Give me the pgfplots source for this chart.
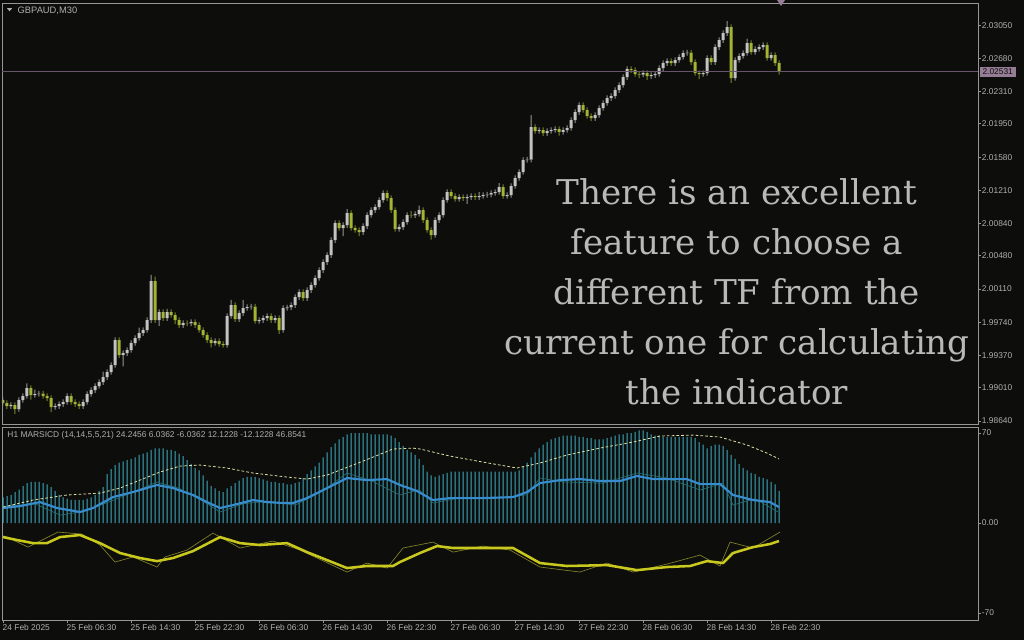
\documentclass[border=0pt]{standalone}
\usepackage{pgfplots}
\pgfplotsset{compat=1.18}
\usepackage{pgfplotstable}
\usepackage{fontspec}
\setmainfont{Liberation Sans}
\newfontfamily\slab{DejaVu Serif}
\definecolor{bg}{RGB}{13,13,11}
\definecolor{frame}{RGB}{150,150,150}
\definecolor{lbl}{RGB}{175,175,175}
\definecolor{bull}{RGB}{195,195,195}
\definecolor{bear}{RGB}{165,180,50}
\definecolor{bullwick}{RGB}{150,150,150}
\definecolor{bearwick}{RGB}{125,135,45}
\definecolor{bidline}{RGB}{105,85,105}
\definecolor{bidbox}{RGB}{150,125,150}
\definecolor{hist}{RGB}{60,170,190}
\definecolor{blueline}{RGB}{55,140,205}
\definecolor{dashline}{RGB}{225,225,170}
\definecolor{yel}{RGB}{200,200,30}
\definecolor{yelthin}{RGB}{130,130,40}
\definecolor{tealthin}{RGB}{40,110,115}
\definecolor{bigtext}{RGB}{185,185,185}

\pgfplotstableread{
i o h l c
0 1.98874 1.98904 1.98811 1.98841
1 1.98841 1.98871 1.98777 1.98807
2 1.98807 1.98848 1.98777 1.98818
3 1.98818 1.98848 1.98720 1.98774
4 1.98774 1.98904 1.98744 1.98874
5 1.98874 1.98949 1.98844 1.98919
6 1.98919 1.99060 1.98889 1.99008
7 1.99008 1.99038 1.98880 1.98930
8 1.98930 1.98990 1.98900 1.98941
9 1.98941 1.98975 1.98911 1.98945
10 1.98945 1.98975 1.98889 1.98919
11 1.98919 1.98949 1.98866 1.98896
12 1.98896 1.98926 1.98740 1.98796
13 1.98796 1.98837 1.98766 1.98807
14 1.98807 1.98859 1.98777 1.98829
15 1.98829 1.98882 1.98799 1.98852
16 1.98852 1.98949 1.98822 1.98919
17 1.98919 1.98949 1.98822 1.98852
18 1.98852 1.98882 1.98799 1.98829
19 1.98829 1.98859 1.98777 1.98807
20 1.98807 1.98882 1.98777 1.98852
21 1.98852 1.98971 1.98822 1.98941
22 1.98941 1.99015 1.98911 1.98985
23 1.98985 1.99060 1.98955 1.99030
24 1.99030 1.99104 1.99000 1.99074
25 1.99074 1.99190 1.99044 1.99130
26 1.99130 1.99216 1.99100 1.99186
27 1.99186 1.99294 1.99156 1.99264
28 1.99264 1.99572 1.99234 1.99542
29 1.99542 1.99572 1.99345 1.99375
30 1.99375 1.99427 1.99250 1.99397
31 1.99397 1.99461 1.99367 1.99431
32 1.99431 1.99539 1.99401 1.99509
33 1.99509 1.99595 1.99479 1.99565
34 1.99565 1.99680 1.99535 1.99620
35 1.99620 1.99684 1.99590 1.99654
36 1.99654 1.99795 1.99624 1.99765
37 1.99765 2.00267 1.99735 2.00200
38 2.00200 2.00250 1.99735 1.99765
39 1.99765 1.99884 1.99700 1.99854
40 1.99854 1.99884 1.99757 1.99787
41 1.99787 1.99890 1.99757 1.99854
42 1.99854 1.99884 1.99791 1.99821
43 1.99821 1.99851 1.99720 1.99765
44 1.99765 1.99795 1.99679 1.99709
45 1.99709 1.99762 1.99679 1.99732
46 1.99732 1.99762 1.99698 1.99728
47 1.99728 1.99773 1.99698 1.99743
48 1.99743 1.99773 1.99679 1.99709
49 1.99709 1.99739 1.99624 1.99654
50 1.99654 1.99684 1.99568 1.99598
51 1.99598 1.99628 1.99512 1.99542
52 1.99542 1.99572 1.99460 1.99509
53 1.99509 1.99561 1.99479 1.99531
54 1.99531 1.99561 1.99468 1.99498
55 1.99498 1.99528 1.99457 1.99487
56 1.99487 1.99840 1.99457 1.99810
57 1.99810 1.99990 1.99780 1.99932
58 1.99932 1.99962 1.99746 1.99776
59 1.99776 1.99873 1.99746 1.99843
60 1.99843 1.99990 1.99813 1.99899
61 1.99899 1.99940 1.99869 1.99910
62 1.99910 1.99945 1.99880 1.99915
63 1.99915 1.99945 1.99724 1.99754
64 1.99754 1.99795 1.99724 1.99765
65 1.99765 1.99817 1.99735 1.99787
66 1.99787 1.99840 1.99757 1.99810
67 1.99810 1.99840 1.99735 1.99765
68 1.99765 1.99817 1.99735 1.99787
69 1.99787 1.99817 1.99610 1.99654
70 1.99654 1.99929 1.99624 1.99899
71 1.99899 1.99935 1.99869 1.99905
72 1.99905 1.99962 1.99875 1.99932
73 1.99932 2.00051 1.99902 2.00021
74 2.00021 2.00107 1.99991 2.00077
75 2.00077 2.00107 1.99980 2.00010
76 2.00010 2.00129 1.99980 2.00099
77 2.00099 2.00185 2.00069 2.00155
78 2.00155 2.00263 2.00125 2.00233
79 2.00233 2.00352 2.00203 2.00322
80 2.00322 2.00441 2.00292 2.00411
81 2.00411 2.00519 2.00381 2.00489
82 2.00489 2.00686 2.00459 2.00656
83 2.00656 2.00876 2.00626 2.00846
84 2.00846 2.00876 2.00760 2.00790
85 2.00790 2.00853 2.00700 2.00823
86 2.00823 2.01000 2.00793 2.00957
87 2.00957 2.00987 2.00760 2.00790
88 2.00790 2.00820 2.00738 2.00768
89 2.00768 2.00798 2.00700 2.00745
90 2.00745 2.00842 2.00715 2.00812
91 2.00812 2.00965 2.00782 2.00935
92 2.00935 2.01020 2.00905 2.00990
93 2.00990 2.01054 2.00960 2.01024
94 2.01024 2.01132 2.00994 2.01102
95 2.01102 2.01210 2.01072 2.01180
96 2.01180 2.01210 2.01094 2.01124
97 2.01124 2.01154 2.00960 2.00990
98 2.00990 2.01020 2.00749 2.00779
99 2.00779 2.00831 2.00749 2.00801
100 2.00801 2.00887 2.00771 2.00857
101 2.00857 2.00965 2.00827 2.00935
102 2.00935 2.00980 2.00900 2.00930
103 2.00930 2.00976 2.00900 2.00946
104 2.00946 2.01040 2.00916 2.00990
105 2.00990 2.01020 2.00849 2.00879
106 2.00879 2.00909 2.00738 2.00768
107 2.00768 2.00798 2.00660 2.00712
108 2.00712 2.00909 2.00682 2.00879
109 2.00879 2.00965 2.00849 2.00935
110 2.00935 2.01132 2.00905 2.01102
111 2.01102 2.01221 2.01072 2.01191
112 2.01191 2.01221 2.01117 2.01147
113 2.01147 2.01177 2.01083 2.01113
114 2.01113 2.01165 2.01083 2.01135
115 2.01135 2.01165 2.01094 2.01124
116 2.01124 2.01165 2.01060 2.01135
117 2.01135 2.01177 2.01105 2.01147
118 2.01147 2.01177 2.01105 2.01135
119 2.01135 2.01190 2.01105 2.01147
120 2.01147 2.01188 2.01117 2.01158
121 2.01158 2.01192 2.01128 2.01162
122 2.01162 2.01210 2.01132 2.01180
123 2.01180 2.01221 2.01150 2.01191
124 2.01191 2.01290 2.01161 2.01247
125 2.01247 2.01277 2.01117 2.01147
126 2.01147 2.01188 2.01117 2.01158
127 2.01158 2.01288 2.01128 2.01258
128 2.01258 2.01377 2.01228 2.01347
129 2.01347 2.01444 2.01317 2.01414
130 2.01414 2.01578 2.01384 2.01548
131 2.01548 2.01582 2.01518 2.01552
132 2.01552 2.02049 2.01522 2.01915
133 2.01915 2.01945 2.01841 2.01871
134 2.01871 2.01912 2.01841 2.01882
135 2.01882 2.01912 2.01818 2.01848
136 2.01848 2.01901 2.01818 2.01871
137 2.01871 2.01912 2.01841 2.01882
138 2.01882 2.01923 2.01852 2.01893
139 2.01893 2.01923 2.01820 2.01860
140 2.01860 2.01912 2.01830 2.01882
141 2.01882 2.01934 2.01852 2.01904
142 2.01904 2.02023 2.01874 2.01993
143 2.01993 2.02112 2.01963 2.02082
144 2.02082 2.02190 2.02052 2.02160
145 2.02160 2.02190 2.02075 2.02105
146 2.02105 2.02135 2.02008 2.02038
147 2.02038 2.02068 2.01985 2.02015
148 2.02015 2.02079 2.01985 2.02049
149 2.02049 2.02157 2.02019 2.02127
150 2.02127 2.02213 2.02097 2.02183
151 2.02183 2.02268 2.02153 2.02238
152 2.02238 2.02291 2.02208 2.02261
153 2.02261 2.02357 2.02231 2.02327
154 2.02327 2.02413 2.02297 2.02383
155 2.02383 2.02502 2.02353 2.02472
156 2.02472 2.02591 2.02442 2.02561
157 2.02561 2.02591 2.02520 2.02550
158 2.02550 2.02580 2.02476 2.02506
159 2.02506 2.02536 2.02460 2.02500
160 2.02500 2.02547 2.02470 2.02517
161 2.02517 2.02547 2.02440 2.02483
162 2.02483 2.02524 2.02453 2.02494
163 2.02494 2.02536 2.02464 2.02506
164 2.02506 2.02602 2.02476 2.02572
165 2.02572 2.02658 2.02542 2.02628
166 2.02628 2.02680 2.02598 2.02650
167 2.02650 2.02680 2.02598 2.02628
168 2.02628 2.02692 2.02598 2.02662
169 2.02662 2.02725 2.02632 2.02695
170 2.02695 2.02770 2.02665 2.02740
171 2.02740 2.02775 2.02710 2.02745
172 2.02745 2.02775 2.02609 2.02639
173 2.02639 2.02669 2.02487 2.02517
174 2.02517 2.02547 2.02450 2.02506
175 2.02506 2.02547 2.02476 2.02517
176 2.02517 2.02714 2.02487 2.02684
177 2.02684 2.02714 2.02609 2.02639
178 2.02639 2.02836 2.02609 2.02806
179 2.02806 2.02914 2.02776 2.02884
180 2.02884 2.02992 2.02854 2.02962
181 2.02962 2.03096 2.02932 2.03029
182 2.03029 2.03059 2.02406 2.02461
183 2.02461 2.02692 2.02431 2.02662
184 2.02662 2.02736 2.02632 2.02706
185 2.02706 2.02770 2.02676 2.02740
186 2.02740 2.02900 2.02710 2.02851
187 2.02851 2.02881 2.02721 2.02751
188 2.02751 2.02814 2.02721 2.02784
189 2.02784 2.02836 2.02754 2.02806
190 2.02806 2.02859 2.02776 2.02829
191 2.02829 2.02859 2.02654 2.02684
192 2.02684 2.02747 2.02654 2.02717
193 2.02717 2.02747 2.02598 2.02628
194 2.02628 2.02658 2.02500 2.02531
}\candles

\pgfplotsset{
  mtaxis/.style={
    scale only axis, width=732pt, xmin=-0.25, xmax=243.75,
    axis line style={draw=frame, line width=0.75pt},
    tick style={draw=frame, line width=0.75pt},
    tick align=outside, major tick length=2.25pt,
    ytick pos=right, yticklabel pos=right,
    yticklabel style={font=\fontsize{6.3pt}{7pt}\selectfont, text=lbl, anchor=west, inner sep=0pt, xshift=0.5pt},
    clip=false,
  },
  seg/.style 2 args={draw=none, fill=#1, bar width=#2},
}

\begin{document}
\begin{tikzpicture}
\fill[bg] (0,0) rectangle (768pt,-480pt);

% ---------------- candles (stacked segments: low, lower wick, body, upper wick), prices minus 1.98 ----------------
\begin{axis}[mtaxis, hide axis, clip=true,
  at={(1.5pt,-2.25pt)}, anchor=north west, height=315.75pt,
  ymin=0.00607, ymax=0.05297, ybar stacked]
\addplot[draw=none, fill=none, bar width=0.75pt] table[x=i, y expr={\thisrow{l}-1.98}] {\candles};
\addplot[seg={bullwick}{0.75pt}] table[x=i, y expr={(1-(\thisrow{o}>\thisrow{c}))*(\thisrow{o}-\thisrow{l})}] {\candles};
\addplot[seg={bearwick}{0.75pt}] table[x=i, y expr={(\thisrow{o}>\thisrow{c})*(\thisrow{c}-\thisrow{l})}] {\candles};
\addplot[seg={bull}{2.25pt}] table[x=i, y expr={(1-(\thisrow{o}>\thisrow{c}))*(\thisrow{c}-\thisrow{o})}] {\candles};
\addplot[seg={bear}{2.25pt}] table[x=i, y expr={(\thisrow{o}>\thisrow{c})*(\thisrow{o}-\thisrow{c})}] {\candles};
\addplot[seg={bullwick}{0.75pt}] table[x=i, y expr={(1-(\thisrow{o}>\thisrow{c}))*(\thisrow{h}-\thisrow{c})}] {\candles};
\addplot[seg={bearwick}{0.75pt}] table[x=i, y expr={(\thisrow{o}>\thisrow{c})*(\thisrow{h}-\thisrow{o})}] {\candles};
\end{axis}

% ---------------- price panel frame, ticks, bid line ----------------
\begin{axis}[mtaxis,
  at={(1.5pt,-2.25pt)}, anchor=north west, height=315.75pt,
  ymin=1.98607, ymax=2.03297,
  xtick=\empty,
  ytick={1.98640,1.99010,1.99370,1.99740,2.00110,2.00480,2.00840,2.01210,2.01580,2.01950,2.02310,2.02680,2.03050},
  yticklabels={1.98640,1.99010,1.99370,1.99740,2.00110,2.00480,2.00840,2.01210,2.01580,2.01950,2.02310,2.02680,2.03050},
]
\addplot[bidline, line width=0.75pt] coordinates {(-0.25,2.02531) (243.75,2.02531)};
\node[fill=bidbox, text=bg, font=\fontsize{6.3pt}{7pt}\selectfont, inner xsep=2.2pt, inner ysep=1.4pt, anchor=west]
  at (axis cs:243.75,2.02531) [xshift=1pt] {2.02531};
\fill[lbl] ([shift={(3.75pt,-3.9pt)}]rel axis cs:0,1) -- ([shift={(7.6pt,-3.9pt)}]rel axis cs:0,1) -- ([shift={(5.675pt,-6.2pt)}]rel axis cs:0,1) -- cycle;
\node[anchor=west, font=\fontsize{7pt}{8pt}\selectfont, text=lbl, inner sep=0pt] at (rel axis cs:0,1) [xshift=11.6pt, yshift=-5.7pt] {GBPAUD,M30};
\fill[bidbox] ([shift={(-3pt,2.25pt)}]axis cs:194.5,2.03297) -- ([shift={(3pt,2.25pt)}]axis cs:194.5,2.03297) -- ([shift={(0pt,-2.25pt)}]axis cs:194.5,2.03297) -- cycle;
\node[align=center, text=bigtext, font=\slab\fontsize{25.6pt}{37.5pt}\selectfont, inner sep=0pt]
  at (axis cs:183.5,2.00085) {There is an excellent\\feature to choose a\\different TF from the\\current one for calculating\\the indicator};
\end{axis}

% ---------------- indicator panel ----------------
\begin{axis}[mtaxis,
  at={(1.5pt,-320.25pt)}, anchor=north west, height=144.75pt,
  ymin=-75.4, ymax=74.7,
  ytick={-70,0,70}, yticklabels={-70,0.00,70},
  xtick={0,16,32,48,64,80,96,112,128,144,160,176,192},
  xticklabels={24 Feb 2025,25 Feb 06:30,25 Feb 14:30,25 Feb 22:30,26 Feb 06:30,26 Feb 14:30,26 Feb 22:30,27 Feb 06:30,27 Feb 14:30,27 Feb 22:30,28 Feb 06:30,28 Feb 14:30,28 Feb 22:30},
  xtick pos=bottom, xticklabel pos=bottom,
  xticklabel style={font=\fontsize{6.3pt}{7pt}\selectfont, text=lbl, anchor=north west, inner sep=0pt, yshift=-1.2pt, xshift=-0.4pt},
]
\addplot[ybar, bar width=0.75pt, fill=hist, draw=none] coordinates {
(0,20) (1,21) (2,22) (3,24) (4,26) (5,29) (6,31) (7,32) (8,32) (9,32)
(10,31) (11,30) (12,28) (13,25) (14,22) (15,20) (16,19) (17,18) (18,18) (19,18)
(20,18) (21,19) (22,20) (23,22) (24,25) (25,28) (26,38) (27,42) (28,45) (29,47)
(30,48) (31,49) (32,50) (33,51) (34,53) (35,54) (36,55) (37,57) (38,58) (39,58)
(40,58) (41,57) (42,57) (43,56) (44,54) (45,52) (46,49) (47,46) (48,43) (49,41)
(50,37) (51,33) (52,29) (53,27) (54,25) (55,24) (56,27) (57,29) (58,31) (59,33)
(60,35) (61,36) (62,36) (63,36) (64,35) (65,34) (66,33) (67,32) (68,32) (69,31)
(70,31) (71,30) (72,30) (73,31) (74,32) (75,35) (76,38) (77,41) (78,44) (79,47)
(80,51) (81,55) (82,59) (83,62) (84,65) (85,67) (86,69) (87,70) (88,70) (89,70)
(90,70) (91,70) (92,69) (93,69) (94,69) (95,69) (96,69) (97,68) (98,66) (99,63)
(100,60) (101,57) (102,55) (103,53) (104,50) (105,45) (106,40) (107,37) (108,36) (109,37)
(110,38) (111,39) (112,40) (113,40) (114,40) (115,40) (116,40) (117,40) (118,40) (119,40)
(120,40) (121,40) (122,40) (123,40) (124,40) (125,40) (126,40) (127,40) (128,40) (129,41)
(130,44) (131,47) (132,51) (133,55) (134,58) (135,61) (136,63) (137,65) (138,66) (139,67)
(140,68) (141,68) (142,68) (143,68) (144,67) (145,67) (146,66) (147,66) (148,65) (149,65)
(150,65) (151,66) (152,67) (153,68) (154,69) (155,69) (156,70) (157,70) (158,71) (159,72)
(160,72) (161,71) (162,69) (163,68) (164,68) (165,67) (166,67) (167,67) (168,67) (169,67)
(170,67) (171,67) (172,67) (173,66) (174,63) (175,61) (176,58) (177,60) (178,61) (179,61)
(180,60) (181,57) (182,53) (183,50) (184,46) (185,43) (186,41) (187,39) (188,38) (189,36)
(190,35) (191,34) (192,32) (193,30) (194,25)
};
\addplot[tealthin, line width=0.5pt] coordinates {
(0,13) (8,15) (14.25,6.2) (20,9) (27,17) (34,26) (38.5,31.9) (44,27) (50,17) (54.25,8.6)
(60,15) (66,17) (73,14) (80,25) (86,38.9) (92,33) (99.25,21.8) (104,26) (107.5,15.6) (115,20)
(122,19) (131,22) (134.25,35) (140,32) (150,31) (158.5,38.9) (166,35) (174.25,25.7) (180,31)
(182.5,14) (188,19) (193.75,8.6)
};
\addplot[blueline, line width=1.6pt, line join=round] coordinates {
(0,11.7) (4.25,13.2) (9.25,16.3) (13.5,11.7) (19.25,8.6) (22.5,11.7) (27.5,20.2) (32.5,24.1)
(38.5,29.6) (42.5,27.2) (47.5,21.8) (51,16.3) (54.25,11.7) (57.5,14) (62.5,17.9) (66,16.3)
(70,15.6) (72.5,15.6) (76,19.4) (81,27.2) (86,35) (91,33.4) (96,34.2) (99.25,29.6) (103.5,24.9)
(107.5,17.9) (111.75,19.4) (120,19.4) (127.5,20.2) (131,24.1) (134.25,31.1) (139.25,33.4)
(144.25,34.2) (149.25,32.7) (154.25,32.7) (158.5,36.6) (162.5,34.2) (171,34.2) (174.25,30.3)
(179.25,30.3) (182.5,21.8) (187.5,17.9) (191.75,16.3) (194,12.4)
};
\addplot[dashline, line width=0.6pt, dash pattern=on 2pt off 1.6pt] coordinates {
(0,12.4) (7.5,17.9) (16,21.8) (24.25,23.3) (29.25,27.2) (34.25,33.4) (39.25,39.7) (44.25,44.3)
(49.25,45.1) (56,42.8) (62.5,38.9) (71,35.8) (76,34.2) (81,37.3) (87.5,45.1) (92.5,51.3)
(97.5,57.6) (102.5,58.3) (104.25,57.6) (111.75,52.1) (120,47.4) (128.5,42.8) (134.25,46.7)
(141,52.9) (149.25,58.3) (157.5,63) (164.25,67.7) (172.5,68.4) (179.25,66.9) (186,60.7)
(191,54.4) (194,49.8)
};
\addplot[yelthin, line width=0.5pt] coordinates {
(0,-10) (1,-10.9) (6.25,-18.7) (13.75,-7) (19.75,-8.6) (24.25,-17.1) (28,-30.3) (32.5,-26.4)
(38.5,-34.2) (40.5,-26.4) (46,-21) (52.5,-7.8) (59.25,-19.4) (67.5,-14) (74.25,-21) (86,-38.1)
(91,-31.1) (96,-35) (100,-19.4) (107.5,-14.8) (112.5,-22.6) (120,-17.9) (126.75,-21)
(134.25,-34.2) (144.25,-38.1) (151,-31.1) (157.5,-38.1) (166,-31.9) (174.25,-24.9)
(179.25,-33.4) (181.75,-14.8) (187.5,-19.4) (194.25,-7)
};
\addplot[yel, line width=1.9pt, line join=round] coordinates {
(0,-10.9) (3.5,-13.2) (7.5,-15.6) (11,-15.6) (14.25,-10.9) (19.25,-9.3) (24.25,-15.6)
(29.25,-23.3) (34.25,-27.2) (38.5,-29.6) (42.5,-27.2) (47.5,-21.8) (54.25,-10.9) (59.25,-15.6)
(64.25,-17.1) (71,-15.6) (76,-22.6) (81,-28.8) (86,-35) (91,-33.4) (97.5,-33.4) (99.25,-30.3)
(104.25,-23.3) (108.5,-17.9) (112.5,-19.4) (120,-19.4) (127.5,-19.4) (134.25,-31.1) (141,-33.4)
(151,-32.7) (158.5,-36.6) (166,-34.2) (171.75,-33.4) (176,-29.6) (180,-31.1) (182.5,-23.3)
(187.5,-18.7) (191.75,-16.3) (194,-14)
};
\node[anchor=west, font=\fontsize{6.3pt}{7pt}\selectfont, text=lbl, inner sep=0pt] at (rel axis cs:0,1) [xshift=3.9pt, yshift=-6.2pt]
  {H1 MARSICD (14,14,5,5,21) 24.2456 6.0362 -6.0362 12.1228 -12.1228 46.8541};
\end{axis}

\pgfresetboundingbox
\path[use as bounding box] (0,0) rectangle (768pt,-480pt);
\end{tikzpicture}
\end{document}
